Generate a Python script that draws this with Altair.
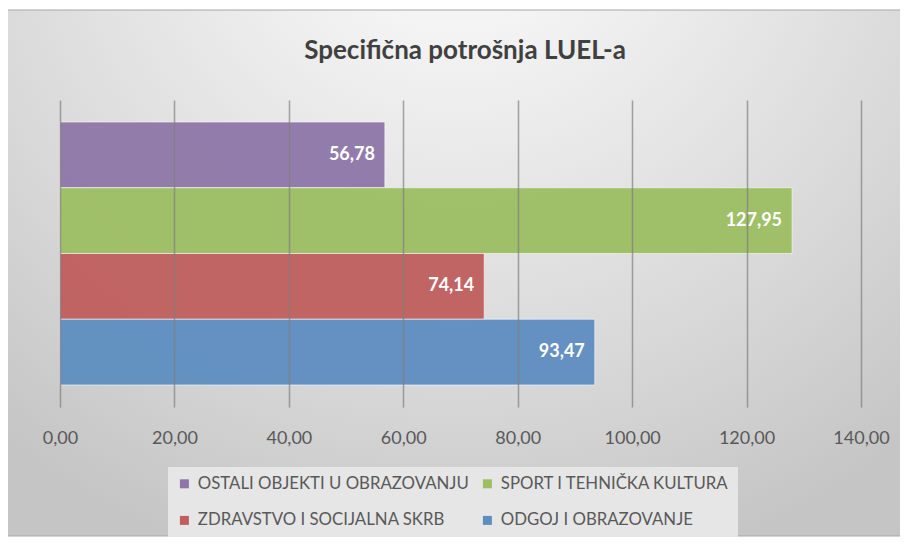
import altair as alt
import pandas as pd

categories = ["OSTALI OBJEKTI U OBRAZOVANJU", "SPORT I TEHNIČKA KULTURA",
              "ZDRAVSTVO I SOCIJALNA SKRB", "ODGOJ I OBRAZOVANJE"]
values = [56.78, 127.95, 74.14, 93.47]
colors = ["#8E77A8", "#9DBE63", "#C05E5E", "#5E8EC0"]
x_ticks = [0, 20, 40, 60, 80, 100, 120, 140]
title_text = "Specifična potrošnja LUEL-a"

df = pd.DataFrame({"cat": categories, "value": values})

FONT = "Lato"
W, H = 801, 307

grad = alt.RadialGradient(
    gradient="radial",
    x1=0.5, y1=0.06, x2=0.5, y2=0.06, r1=0, r2=0.8,
    stops=[
        alt.GradientStop(offset=0.0, color="#fdfdfd"),
        alt.GradientStop(offset=0.2, color="#f4f4f4"),
        alt.GradientStop(offset=0.45, color="#e6e6e6"),
        alt.GradientStop(offset=0.7, color="#d8d8d8"),
        alt.GradientStop(offset=1.0, color="#c5c5c5"),
    ],
)

bg = alt.Chart(pd.DataFrame({"a": [0]})).mark_rect(
    fill=grad, stroke="#a6a6a6", strokeWidth=1
).encode(
    x=alt.value(-54), x2=alt.value(846), y=alt.value(-90), y2=alt.value(436)
)

title = alt.Chart(pd.DataFrame({"t": [title_text]})).mark_text(
    font=FONT, fontSize=26, fontWeight="bold", color="#404040",
    align="center", baseline="middle"
).encode(
    x=alt.value(405), y=alt.value(-49), text="t:N"
)

y_enc = alt.Y("cat:N", sort=categories, axis=None,
              scale=alt.Scale(paddingInner=0.0, paddingOuter=0.335))

bars = alt.Chart(df).mark_bar(
    opacity=0.95, stroke="#ffffff", strokeOpacity=0.6, strokeWidth=1
).encode(
    x=alt.X("value:Q",
            scale=alt.Scale(domain=[0, 140], nice=False),
            axis=alt.Axis(values=x_ticks, title=None, domain=False, ticks=False,
                          grid=True, gridColor="#7f7f7f", gridOpacity=0.7,
                          gridWidth=1.5, zindex=1, labelFlush=False,
                          labelExpr="replace(format(datum.value, '.2f'), '.', ',')",
                          labelFont=FONT, labelFontSize=18, labelColor="#595959",
                          labelPadding=22)),
    y=y_enc,
    color=alt.Color("cat:N", sort=categories,
                    scale=alt.Scale(domain=categories, range=colors),
                    legend=alt.Legend(title=None, orient="none", legendX=108,
                                      legendY=367, columns=2, direction="horizontal",
                                      symbolType="square", symbolSize=81,
                                      symbolStrokeWidth=0, symbolOpacity=1,
                                      labelFont=FONT, labelFontSize=16.8,
                                      labelColor="#595959", labelLimit=400,
                                      labelOffset=5,
                                      rowPadding=19, columnPadding=10,
                                      padding=8, fillColor="#e6e6e6",
                                      symbolOffset=0)),
)

labels = alt.Chart(df).transform_calculate(
    label="replace(format(datum.value, '.2f'), '.', ',')"
).mark_text(
    align="right", baseline="middle", dx=-10, color="white",
    font=FONT, fontSize=18, fontWeight="bold"
).encode(
    x=alt.X("value:Q"),
    y=y_enc,
    text="label:N",
)

chart = alt.layer(bg, title, bars, labels).properties(
    width=W, height=H,
    padding={"left": 52, "top": 92, "right": 39, "bottom": 130},
    autosize=alt.AutoSizeParams(type="none"),
    background="white",
).configure_view(stroke=None)

chart.save("out.html", embed_options={"renderer": "svg", "actions": False})
